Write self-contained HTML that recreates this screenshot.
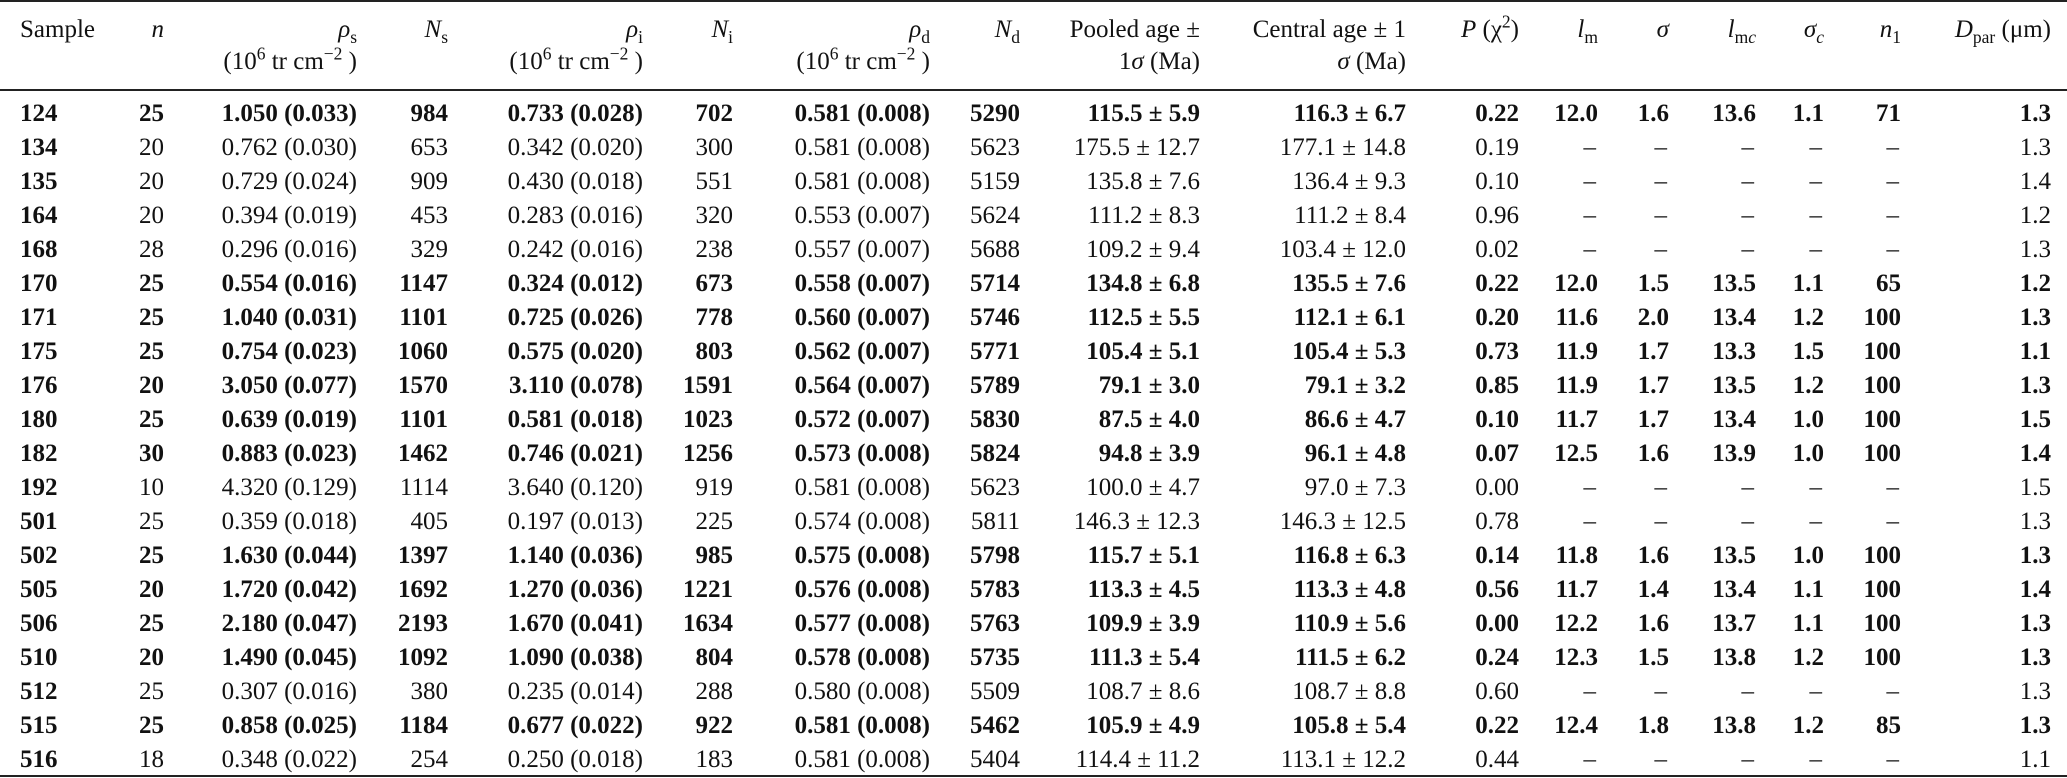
<!DOCTYPE html>
<html><head><meta charset="utf-8">
<style>
html,body{margin:0;padding:0;background:#fff;}
#tbl{position:relative;width:2067px;height:778px;overflow:hidden;font-family:"Liberation Serif",serif;font-size:25px;color:#111;}
.rule{position:absolute;left:0;width:2067px;background:#222;}
.c{position:absolute;white-space:nowrap;height:34px;line-height:34px;}
.h{position:absolute;white-space:nowrap;line-height:34px;text-align:right;}
.b{font-weight:bold;}
sub,sup{font-size:70%;line-height:0;}
i{font-style:italic;}
</style></head>
<body>
<div id="tbl">
<div class="rule" style="top:0;height:2px"></div>
<div class="rule" style="top:89px;height:2px"></div>
<div class="rule" style="top:775px;height:2px"></div>
</div>
<script>
const colRight=[20,164,357,448,643,733,930,1020,1200,1406,1519,1598,1669,1756,1824,1901,2051];
const headers=[
 ["Sample",""],["<i>n</i>",""],["<i>ρ</i><sub>s</sub>","(10<sup>6</sup> tr cm<sup>−2</sup> )"],["<i>N</i><sub>s</sub>",""],
 ["<i>ρ</i><sub>i</sub>","(10<sup>6</sup> tr cm<sup>−2</sup> )"],["<i>N</i><sub>i</sub>",""],["<i>ρ</i><sub>d</sub>","(10<sup>6</sup> tr cm<sup>−2</sup> )"],["<i>N</i><sub>d</sub>",""],
 ["Pooled age ±","1<i>σ</i> (Ma)"],["Central age ± 1","<i>σ</i> (Ma)"],["<i>P</i> (χ<sup>2</sup>)",""],["<i>l</i><sub>m</sub>",""],["<i>σ</i>",""],
 ["<i>l</i><sub>m<i>c</i></sub>",""],["<i>σ</i><sub><i>c</i></sub>",""],["<i>n</i><sub>1</sub>",""],["<i>D</i><sub>par</sub> (μm)",""]];
const headerNames=["sample","n","rho-s","n-s","rho-i","n-i","rho-d","n-d","pooled-age","central-age","p-chi2","lm","sigma","lmc","sigma-c","n1","dpar"];
const boldRows=["124","170","171","175","176","180","182","502","505","506","510","515"];
const D="–";
const rows=[
["124","25","1.050 (0.033)","984","0.733 (0.028)","702","0.581 (0.008)","5290","115.5 ± 5.9","116.3 ± 6.7","0.22","12.0","1.6","13.6","1.1","71","1.3"],
["134","20","0.762 (0.030)","653","0.342 (0.020)","300","0.581 (0.008)","5623","175.5 ± 12.7","177.1 ± 14.8","0.19",D,D,D,D,D,"1.3"],
["135","20","0.729 (0.024)","909","0.430 (0.018)","551","0.581 (0.008)","5159","135.8 ± 7.6","136.4 ± 9.3","0.10",D,D,D,D,D,"1.4"],
["164","20","0.394 (0.019)","453","0.283 (0.016)","320","0.553 (0.007)","5624","111.2 ± 8.3","111.2 ± 8.4","0.96",D,D,D,D,D,"1.2"],
["168","28","0.296 (0.016)","329","0.242 (0.016)","238","0.557 (0.007)","5688","109.2 ± 9.4","103.4 ± 12.0","0.02",D,D,D,D,D,"1.3"],
["170","25","0.554 (0.016)","1147","0.324 (0.012)","673","0.558 (0.007)","5714","134.8 ± 6.8","135.5 ± 7.6","0.22","12.0","1.5","13.5","1.1","65","1.2"],
["171","25","1.040 (0.031)","1101","0.725 (0.026)","778","0.560 (0.007)","5746","112.5 ± 5.5","112.1 ± 6.1","0.20","11.6","2.0","13.4","1.2","100","1.3"],
["175","25","0.754 (0.023)","1060","0.575 (0.020)","803","0.562 (0.007)","5771","105.4 ± 5.1","105.4 ± 5.3","0.73","11.9","1.7","13.3","1.5","100","1.1"],
["176","20","3.050 (0.077)","1570","3.110 (0.078)","1591","0.564 (0.007)","5789","79.1 ± 3.0","79.1 ± 3.2","0.85","11.9","1.7","13.5","1.2","100","1.3"],
["180","25","0.639 (0.019)","1101","0.581 (0.018)","1023","0.572 (0.007)","5830","87.5 ± 4.0","86.6 ± 4.7","0.10","11.7","1.7","13.4","1.0","100","1.5"],
["182","30","0.883 (0.023)","1462","0.746 (0.021)","1256","0.573 (0.008)","5824","94.8 ± 3.9","96.1 ± 4.8","0.07","12.5","1.6","13.9","1.0","100","1.4"],
["192","10","4.320 (0.129)","1114","3.640 (0.120)","919","0.581 (0.008)","5623","100.0 ± 4.7","97.0 ± 7.3","0.00",D,D,D,D,D,"1.5"],
["501","25","0.359 (0.018)","405","0.197 (0.013)","225","0.574 (0.008)","5811","146.3 ± 12.3","146.3 ± 12.5","0.78",D,D,D,D,D,"1.3"],
["502","25","1.630 (0.044)","1397","1.140 (0.036)","985","0.575 (0.008)","5798","115.7 ± 5.1","116.8 ± 6.3","0.14","11.8","1.6","13.5","1.0","100","1.3"],
["505","20","1.720 (0.042)","1692","1.270 (0.036)","1221","0.576 (0.008)","5783","113.3 ± 4.5","113.3 ± 4.8","0.56","11.7","1.4","13.4","1.1","100","1.4"],
["506","25","2.180 (0.047)","2193","1.670 (0.041)","1634","0.577 (0.008)","5763","109.9 ± 3.9","110.9 ± 5.6","0.00","12.2","1.6","13.7","1.1","100","1.3"],
["510","20","1.490 (0.045)","1092","1.090 (0.038)","804","0.578 (0.008)","5735","111.3 ± 5.4","111.5 ± 6.2","0.24","12.3","1.5","13.8","1.2","100","1.3"],
["512","25","0.307 (0.016)","380","0.235 (0.014)","288","0.580 (0.008)","5509","108.7 ± 8.6","108.7 ± 8.8","0.60",D,D,D,D,D,"1.3"],
["515","25","0.858 (0.025)","1184","0.677 (0.022)","922","0.581 (0.008)","5462","105.9 ± 4.9","105.8 ± 5.4","0.22","12.4","1.8","13.8","1.2","85","1.3"],
["516","18","0.348 (0.022)","254","0.250 (0.018)","183","0.581 (0.008)","5404","114.4 ± 11.2","113.1 ± 12.2","0.44",D,D,D,D,D,"1.1"]];
const tbl=document.getElementById('tbl');
headers.forEach((h,j)=>{
  h.forEach((txt,k)=>{
    if(!txt)return;
    const d=document.createElement('div');
    
    
    d.className='h';
    d.innerHTML=txt;
    d.style.top=(k?62:30)-17+'px';
    if(j===0){d.style.left=colRight[0]+'px';d.style.textAlign='left';}
    else{d.style.right=(2067-colRight[j])+'px';}
    tbl.appendChild(d);
  });
});
rows.forEach((r,i)=>{
  const y=114+34*i;
  const bold=boldRows.includes(r[0]);
  r.forEach((v,j)=>{
    const d=document.createElement('div');
    
    
    d.className='c'+((bold||j===0)?' b':'');
    d.textContent=v;
    d.style.top=(y-17)+'px';
    if(j===0){d.style.left=colRight[0]+'px';}
    else{
      const pad=(v===D)?2:0;
      d.style.right=(2067-colRight[j]+pad)+'px';
    }
    tbl.appendChild(d);
  });
});
</script>
</body></html>
